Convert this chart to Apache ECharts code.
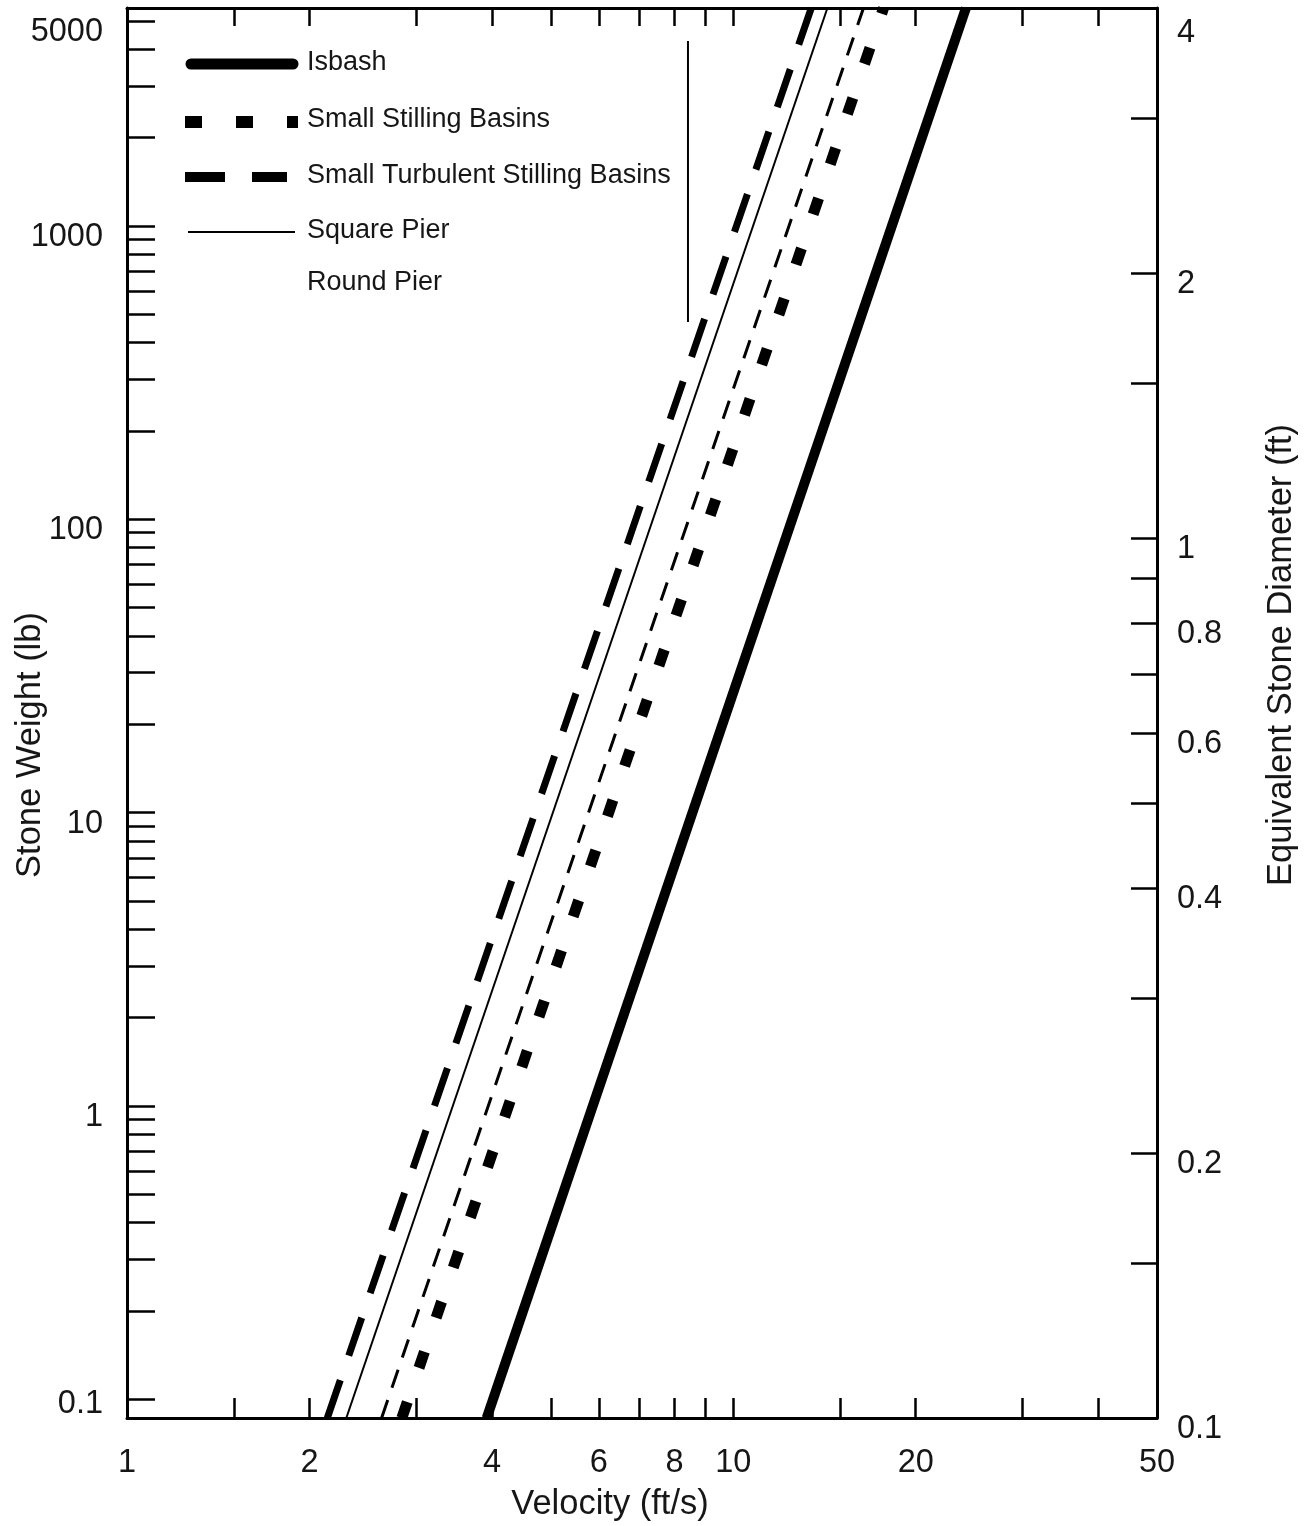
<!DOCTYPE html>
<html><head><meta charset="utf-8">
<script src="https://cdn.jsdelivr.net/npm/echarts@6/dist/echarts.min.js"></script>
<style>html,body{margin:0;padding:0;background:#fff}#c{width:1308px;height:1526px}</style>
</head><body><div id="c"></div>
<script>
// ---- data ----
const velocityRange = [1, 50];          // ft/s
const weightRange = [0.0864, 5530];     // lb
const diameterRange = [0.1, 4];         // ft

// [velocity, stone weight] end points of each design curve
const isbash = [[3.92, 0.0864], [24.2, 5530]];
const smallStillingBasins = [[2.84, 0.0864], [17.7, 5530]];
const smallTurbulentStillingBasins = [[2.14, 0.0864], [13.45, 5530]];
const squarePier = [[2.30, 0.0864], [14.3, 5530]];
const roundPier = [[2.63, 0.0864], [16.4, 5530]];
const keyLine = [[8.42, 4270], [8.42, 470]];

const velocityTicks = [1.5, 2, 3, 4, 5, 6, 7, 8, 9, 10, 15, 20, 30, 40];
const velocityLabels = [1, 2, 4, 6, 8, 10, 20, 50];
const weightTicks = [0.1,0.2,0.3,0.4,0.5,0.6,0.7,0.8,0.9,1,2,3,4,5,6,7,8,9,10,20,30,40,50,60,70,80,90,100,200,300,400,500,600,700,800,900,1000,2000,3000,4000,5000];
const weightLabels = [0.1, 1, 10, 100, 1000, 5000];
const diameterTicks = [0.15, 0.2, 0.3, 0.4, 0.5, 0.6, 0.7, 0.8, 0.9, 1, 1.5, 2, 3, 4];
const diameterLabels = [0.1, 0.2, 0.4, 0.6, 0.8, 1, 2, 4];
const legendNames = ['Isbash', 'Small Stilling Basins', 'Small Turbulent Stilling Basins', 'Square Pier', 'Round Pier'];

// ---- chart ----
const FONT = '"Liberation Sans", Arial, Helvetica, sans-serif';
const INK = '#161616';
const LABEL_SIZE = 32.5;
const NAME_SIZE = 34.5;
const fmt = v => String(+(+v).toPrecision(6));

const chart = echarts.init(document.getElementById('c'), null, {renderer: 'canvas'});

function logAxis(extra) {
  return Object.assign({
    type: 'log', logBase: 10,
    nameMoveOverlap: false,
    splitLine: {show: false},
    minorTick: {show: false},
    axisLine: {show: true, onZero: false, lineStyle: {color: '#000', width: 3}},
    axisTick: {show: true, inside: true, lineStyle: {color: '#000', width: 2.5}},
    axisLabel: {color: INK, fontFamily: FONT, fontSize: LABEL_SIZE, formatter: fmt}
  }, extra);
}
const richLow = {color: INK, fontFamily: FONT, fontSize: LABEL_SIZE, lineHeight: 50};
const richHigh = {color: INK, fontFamily: FONT, fontSize: LABEL_SIZE, lineHeight: 10};

const legendY = [63, 120, 176, 231, 283];
const graphics = [];
graphics.push({type: 'line', shape: {x1: 191, y1: legendY[0] + 1, x2: 293, y2: legendY[0] + 1},
  style: {stroke: '#000', lineWidth: 11, lineCap: 'round'}});
graphics.push({type: 'line', shape: {x1: 185, y1: legendY[1] + 2, x2: 298, y2: legendY[1] + 2},
  style: {stroke: '#000', lineWidth: 12, lineDash: [17, 34]}});
graphics.push({type: 'line', shape: {x1: 185, y1: legendY[2] + 1, x2: 287, y2: legendY[2] + 1},
  style: {stroke: '#000', lineWidth: 10, lineDash: [40, 27]}});
graphics.push({type: 'line', shape: {x1: 188, y1: legendY[3] + 1, x2: 295, y2: legendY[3] + 1},
  style: {stroke: '#000', lineWidth: 2}});
legendNames.forEach((n, i) => graphics.push({
  type: 'text', x: 307, y: legendY[i],
  style: {text: n, fill: INK, font: '27px ' + FONT, textVerticalAlign: 'middle', textAlign: 'left'}
}));

chart.setOption({
  backgroundColor: '#fff',
  animation: false,
  grid: {left: 127, right: 151, top: 8, bottom: 108, containLabel: false, outerBoundsMode: 'none'},
  xAxis: [
    logAxis({
      position: 'bottom', min: velocityRange[0], max: velocityRange[1],
      name: 'Velocity (ft/s)', nameLocation: 'middle', nameGap: 69,
      nameTextStyle: {color: INK, fontFamily: FONT, fontSize: NAME_SIZE, padding: [0, 64, 0, 0]},
      axisTick: {show: true, inside: true, length: 20, customValues: velocityTicks, lineStyle: {color: '#000', width: 2.5}},
      axisLabel: {color: INK, fontFamily: FONT, fontSize: LABEL_SIZE, margin: 29, formatter: fmt, customValues: velocityLabels}
    }),
    logAxis({
      position: 'top', min: velocityRange[0], max: velocityRange[1],
      axisTick: {show: true, inside: true, length: 18, customValues: velocityTicks, lineStyle: {color: '#000', width: 2.5}},
      axisLabel: {show: false}
    })
  ],
  yAxis: [
    logAxis({
      position: 'left', min: weightRange[0], max: weightRange[1],
      name: 'Stone Weight (lb)', nameLocation: 'middle', nameGap: 79,
      nameTextStyle: {color: INK, fontFamily: FONT, fontSize: NAME_SIZE, padding: [0, 64, 0, 0]},
      axisTick: {show: true, inside: true, length: 28, customValues: weightTicks, lineStyle: {color: '#000', width: 2.5}},
      axisLabel: {color: INK, fontFamily: FONT, fontSize: LABEL_SIZE, margin: 24, verticalAlign: 'top', lineHeight: 22,
        formatter: v => (+v === weightLabels[0] ? '{h|' + fmt(v) + '}' : fmt(v)), rich: {h: richHigh},
        customValues: weightLabels}
    }),
    logAxis({
      position: 'right', min: diameterRange[0], max: diameterRange[1],
      name: 'Equivalent Stone Diameter (ft)', nameLocation: 'middle', nameGap: 107,
      nameTextStyle: {color: INK, fontFamily: FONT, fontSize: NAME_SIZE, padding: [0, 0, 0, 116]},
      axisTick: {show: true, inside: true, length: 26, customValues: diameterTicks, lineStyle: {color: '#000', width: 2.5}},
      axisLabel: {color: INK, fontFamily: FONT, fontSize: LABEL_SIZE, margin: 20, verticalAlign: 'top', lineHeight: 22,
        formatter: v => (+v === diameterLabels[diameterLabels.length - 1] ? '{l|' + fmt(v) + '}' : fmt(v)), rich: {l: richLow},
        customValues: diameterLabels}
    })
  ],
  graphic: graphics,
  series: [
    {name: legendNames[0], type: 'line', data: isbash, showSymbol: false, symbol: 'none', clip: true,
      lineStyle: {color: '#000', width: 10}},
    {name: legendNames[1], type: 'line', data: smallStillingBasins, showSymbol: false, symbol: 'none', clip: true,
      lineStyle: {color: '#000', width: 11, type: [17, 36]}},
    {name: legendNames[2], type: 'line', data: smallTurbulentStillingBasins, showSymbol: false, symbol: 'none', clip: true,
      lineStyle: {color: '#000', width: 7, type: [40, 26]}},
    {name: legendNames[3], type: 'line', data: squarePier, showSymbol: false, symbol: 'none', clip: true,
      lineStyle: {color: '#000', width: 2}},
    {name: legendNames[4], type: 'line', data: roundPier, showSymbol: false, symbol: 'none', clip: true,
      lineStyle: {color: '#000', width: 3, type: [19, 13]}},
    {name: 'Round Pier key', type: 'line', data: keyLine, showSymbol: false, symbol: 'none', clip: true,
      lineStyle: {color: '#000', width: 2}}
  ]
});
</script></body></html>
